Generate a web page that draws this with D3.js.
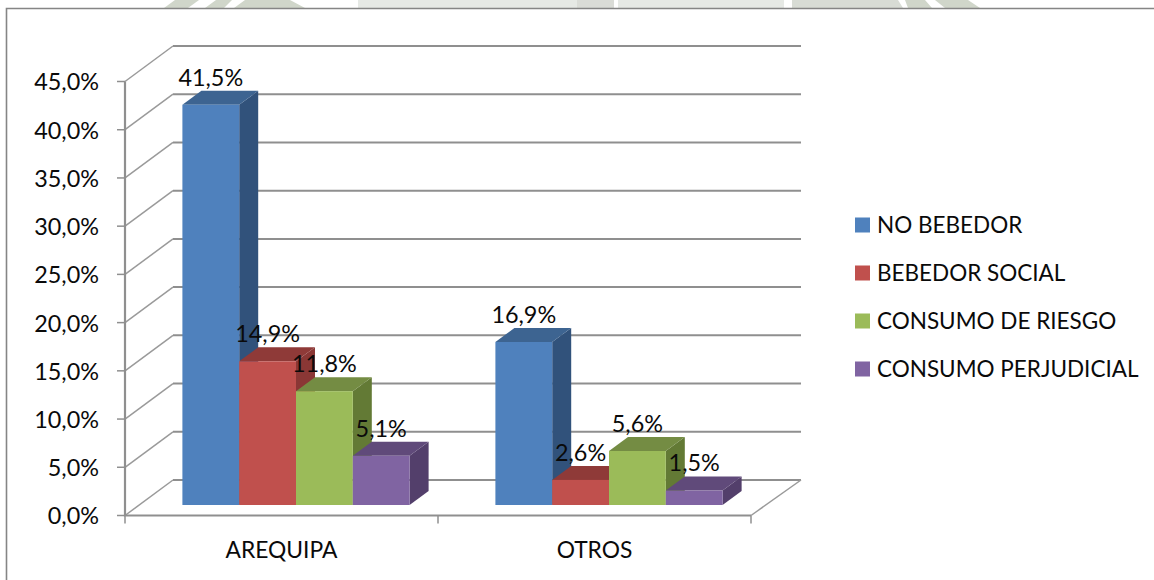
<!DOCTYPE html>
<html><head><meta charset="utf-8">
<script src="https://cdn.jsdelivr.net/npm/d3@7/dist/d3.min.js"></script>
<style>html,body{margin:0;padding:0;background:#fff;overflow:hidden}svg{display:block}text{font-family:Lato,"Open Sans",sans-serif;fill:#0a0a0a}</style>
</head><body><svg id="c" width="1154" height="580"></svg>
<script>
const categories = ["AREQUIPA", "OTROS"];
const seriesNames = ["NO BEBEDOR", "BEBEDOR SOCIAL", "CONSUMO DE RIESGO", "CONSUMO PERJUDICIAL"];
const noBebedor = [41.5, 16.9];
const bebedorSocial = [14.9, 2.6];
const consumoRiesgo = [11.8, 5.6];
const consumoPerjudicial = [5.1, 1.5];
const seriesValues = [noBebedor, bebedorSocial, consumoRiesgo, consumoPerjudicial];
const tickValues = [0, 5, 10, 15, 20, 25, 30, 35, 40, 45];
const frontColors = ["#4F81BD", "#C0504D", "#9BBB59", "#8064A2"];
const topColors = ["#3D6491", "#8F3A38", "#748C43", "#604A7A"];
const sideColors = ["#31527B", "#8A3735", "#637A35", "#533F6B"];
const fmt = v => v.toFixed(1).replace(".", ",") + "%";

const svg = d3.select("#c");
const GRID = "#8f8f8f";
const font = 23.4;

// faded page watermark above the chart frame
const wm = [
 ["#d0d6ca","164,8 175,0 199,0 188,8"],["#d0d6ca","205,8 216,0 232,0 224,8"],["#d0d6ca","234,8 245,0 290,0 305,8"],
 ["#e6e9e5","358,8 358,0 577,0 577,8"],["#dadcd7","577,8 577,0 614,0 614,8"],["#e6e9e5","618,8 618,0 784,0 784,8"],
 ["#d8dcd5","792,8 792,0 898,0 903,8"],["#d0d6ca","908,8 905,0 925,0 932,8"],["#d0d6ca","945,8 935,0 968,0 980,8"]];
svg.selectAll("polygon.wm").data(wm).join("polygon").attr("fill",d=>d[0]).attr("points",d=>d[1]);

// chart frame: only top and left edges are visible
svg.append("path").attr("d","M6.5,580V8.5H1154").attr("fill","none").attr("stroke","#858585").attr("stroke-width",1.6);

// scales
const y = d3.scaleLinear().domain([0,45]).range([515.5,81.5]);
const x = d3.scaleBand().domain(categories).range([125,751]);
const inner = d3.scaleBand().domain(seriesNames).range([57.4,284.6]);
const wallDx = 48, wallDy = -35.5;   // depth of the plot box
const barDx = 19, barDy = -14;       // depth of each bar
const barBase = -10.5;               // bar foot sits this far behind the front axis

const grid = svg.append("g").attr("fill","none").attr("stroke",GRID);
tickValues.forEach(t=>{
  const p = y(t);
  grid.append("path").attr("stroke-width",2).attr("stroke","#8f8f8f")
    .attr("d",`M${125+wallDx},${p+wallDy}H801`);
  grid.append("path").attr("stroke-width",1.5).attr("stroke","#9a9a9a")
    .attr("d",`M125,${p}L${125+wallDx},${p+wallDy}`);
  grid.append("path").attr("stroke-width",1.5).attr("d",`M117,${p}H125`);
});
// floor right edge + front axes
grid.append("path").attr("stroke-width",1.5).attr("stroke","#9a9a9a").attr("d",`M751,${y(0)}L801,${y(0)+wallDy}`);
grid.append("path").attr("stroke-width",2.2).attr("d",`M125,${y(45)}V${y(0)}H751`);
[125,438,751].forEach(t=>grid.append("path").attr("stroke-width",1.5).attr("d",`M${t},${y(0)}V${y(0)+8}`));

// y labels
svg.append("g").selectAll("text").data(tickValues).join("text")
  .attr("x",99).attr("y",t=>y(t)+3).attr("text-anchor","end").attr("dominant-baseline","middle")
  .attr("font-size",font).text(t=>fmt(t));
// category labels
svg.append("g").selectAll("text").data(categories).join("text")
  .attr("x",c=>x(c)+x.bandwidth()/2).attr("y",552).attr("text-anchor","middle").attr("dominant-baseline","middle")
  .attr("font-size",22.8).text(c=>c);

// bars
const rows = [];
categories.forEach((c,ci)=>seriesNames.forEach((s,si)=>rows.push({c,s,si,v:seriesValues[si][ci]})));
const px = d=>x(d.c)+inner(d.s), w = inner.bandwidth();
const barTop = d=>y(d.v)+barBase, bot = y(0)+barBase;
const bars = svg.append("g").selectAll("g").data(rows).join("g");
bars.append("polygon").attr("fill",d=>sideColors[d.si])
  .attr("points",d=>[[px(d)+w,barTop(d)],[px(d)+w+barDx,barTop(d)+barDy],[px(d)+w+barDx,bot+barDy],[px(d)+w,bot]].join(" "));
bars.append("polygon").attr("fill",d=>topColors[d.si])
  .attr("points",d=>[[px(d),barTop(d)],[px(d)+barDx,barTop(d)+barDy],[px(d)+w+barDx,barTop(d)+barDy],[px(d)+w,barTop(d)]].join(" "));
bars.append("rect").attr("fill",d=>frontColors[d.si])
  .attr("x",px).attr("y",barTop).attr("width",w).attr("height",d=>bot-barTop(d));

// value labels
svg.append("g").selectAll("text").data(rows).join("text")
  .attr("x",d=>px(d)+w/2).attr("y",d=>barTop(d)-25).attr("text-anchor","middle").attr("dominant-baseline","middle")
  .attr("font-size",font).text(d=>fmt(d.v));

// legend
const ly = d3.scalePoint().domain(seriesNames).range([225,369]);
const lg = svg.append("g").selectAll("g").data(seriesNames).join("g");
lg.append("rect").attr("x",855).attr("y",s=>ly(s)-7.5).attr("width",15).attr("height",15).attr("fill",(s,i)=>frontColors[i]);
lg.append("text").attr("x",877).attr("y",s=>ly(s)+2).attr("dominant-baseline","middle").attr("font-size",22.5).text(s=>s);
</script></body></html>
